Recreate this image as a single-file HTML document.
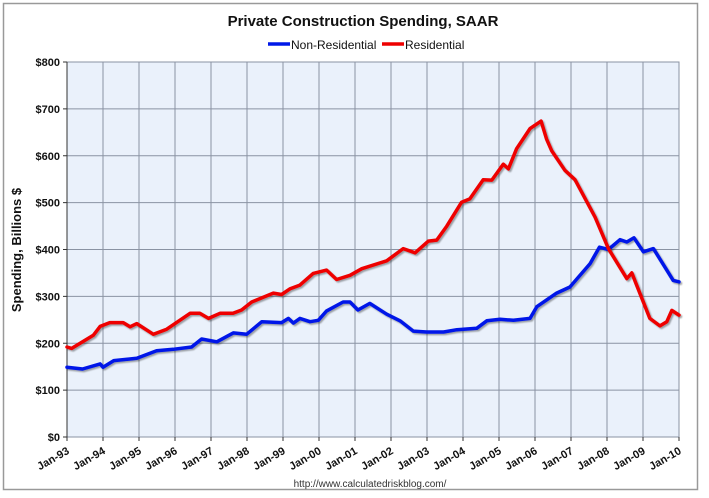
<!DOCTYPE html>
<html><head><meta charset="utf-8"><style>
body{margin:0;background:#fff;width:709px;height:493px;overflow:hidden;font-family:"Liberation Sans",Arial,sans-serif}
svg text{font-family:"Liberation Sans",Arial,sans-serif}
</style></head><body>
<svg id="chart" width="709" height="493" viewBox="0 0 709 493" xmlns="http://www.w3.org/2000/svg">
<defs><filter id="sh" x="-5%" y="-5%" width="110%" height="110%"><feDropShadow dx="1.5" dy="1.5" stdDeviation="0.8" flood-color="#000" flood-opacity="0.35"/></filter></defs>
<rect x="3.5" y="3.5" width="694" height="486" fill="#fff" stroke="#999" stroke-width="1.5"/>
<text x="363" y="26" text-anchor="middle" font-size="15" font-weight="bold" fill="#111">Private Construction Spending, SAAR</text>
<g>
<g><line x1="268" y1="44" x2="290" y2="44" stroke="#0018e8" stroke-width="3.5"/><text x="291" y="49" font-size="12" fill="#111">Non-Residential</text></g>
<g><line x1="382" y1="44" x2="404" y2="44" stroke="#ee0000" stroke-width="3.5"/><text x="405" y="49" font-size="12" fill="#111">Residential</text></g>
</g>
<rect x="67" y="62" width="612" height="375" fill="#eaf1fb"/>
<g id="grid"></g>
<g id="yaxis"></g>
<g id="xaxis"></g>
<g id="series"></g>
<text transform="translate(21,250) rotate(-90)" text-anchor="middle" font-size="13" font-weight="bold" fill="#111">Spending, Billions $</text>
<text x="370" y="487" text-anchor="middle" font-size="10" fill="#333">http://www.calculatedriskblog.com/</text>
</svg>
<script>
const yTicks=[0,100,200,300,400,500,600,700,800];
const xTickLabels=["Jan-93","Jan-94","Jan-95","Jan-96","Jan-97","Jan-98","Jan-99","Jan-00","Jan-01","Jan-02","Jan-03","Jan-04","Jan-05","Jan-06","Jan-07","Jan-08","Jan-09","Jan-10"];
const nonResYears=[0,0.43,0.92,1.0,1.3,1.94,2.49,2.95,3.46,3.74,4.16,4.62,4.99,5.41,5.96,6.15,6.29,6.47,6.75,6.98,7.21,7.67,7.86,8.08,8.41,8.88,9.25,9.62,9.99,10.46,10.83,11.38,11.66,12.03,12.4,12.86,13.05,13.6,13.97,14.53,14.79,15.04,15.36,15.55,15.75,16.01,16.29,16.84,17.0];
const nonResValues=[149,145,156,149,163,168,184,187,192,209,203,222,219,246,244,253,243,253,246,249,269,288,288,271,285,262,248,226,224,224,229,232,248,251,249,253,278,307,320,370,405,400,421,416,425,395,402,334,331];
const resYears=[0,0.13,0.73,0.92,1.19,1.56,1.75,1.94,2.4,2.77,3.42,3.69,3.93,4.25,4.61,4.85,5.13,5.73,5.96,6.19,6.47,6.84,7.21,7.49,7.86,8.19,8.88,9.34,9.67,10.04,10.27,10.55,10.96,11.19,11.56,11.8,12.12,12.26,12.49,12.86,13.17,13.32,13.46,13.83,14.11,14.67,15.04,15.55,15.69,16.19,16.47,16.66,16.8,17.0];
const resValues=[192,189,217,236,244,244,235,242,219,230,264,264,253,264,264,271,288,307,304,316,324,349,356,336,345,359,376,402,393,418,420,450,501,508,549,548,582,572,615,658,674,636,611,569,549,469,402,338,350,253,237,246,270,260];
const NS="http://www.w3.org/2000/svg";
const X0=67,X1=679,Y0=437,Y1=62;
function xs(t){return X0+t/17*(X1-X0);}
function ys(v){return Y0-v/800*(Y0-Y1);}
function mk(tag,attrs,parent){const e=document.createElementNS(NS,tag);for(const k in attrs)e.setAttribute(k,attrs[k]);parent.appendChild(e);return e;}
const grid=document.getElementById('grid'),ya=document.getElementById('yaxis'),xa=document.getElementById('xaxis'),ser=document.getElementById('series');
yTicks.forEach(v=>{
  const g=mk('line',{x1:X0,x2:X1,y1:ys(v),y2:ys(v),stroke:v===0?'#444':'#8a93a3','stroke-width':1},grid);
  
  
  mk('line',{x1:X0-4,x2:X0,y1:ys(v),y2:ys(v),stroke:'#333'},ya);
  const t=mk('text',{x:X0-7,y:ys(v)+4,'text-anchor':'end','font-size':11,'font-weight':'bold',fill:'#111'},ya);
  t.textContent='$'+v;
  
  
});
mk('line',{x1:X0,x2:X0,y1:Y1,y2:Y0,stroke:'#333'},ya);
xTickLabels.forEach((lab,i)=>{
  const x=xs(i);
  if(i>0){const g=mk('line',{x1:x,x2:x,y1:Y1,y2:Y0,stroke:'#8a93a3','stroke-width':1},grid);
  
  }
  mk('line',{x1:x,x2:x,y1:Y0,y2:Y0+4,stroke:'#333'},xa);
  const t=mk('text',{x:x+3,y:Y0+16,'text-anchor':'end','font-size':11,'font-weight':'bold',fill:'#111',transform:`rotate(-30 ${x+3} ${Y0+16})`},xa);
  t.textContent=lab;
  
  
});
mk('rect',{x:X0,y:Y1,width:X1-X0,height:Y0-Y1,fill:'none',stroke:'#8a93a3'},grid);
function line(years,vals,color,name){
  const d=years.map((t,i)=>(i?'L':'M')+xs(t).toFixed(1)+','+ys(vals[i]).toFixed(1)).join('');
  const p=mk('path',{d:d,fill:'none',stroke:color,'stroke-width':3.5,'stroke-linejoin':'round','stroke-linecap':'round',filter:'url(#sh)'},ser);
  
  
}
line(nonResYears,nonResValues,'#0018e8','non-residential-line');
line(resYears,resValues,'#ee0000','residential-line');
</script>
</body></html>
